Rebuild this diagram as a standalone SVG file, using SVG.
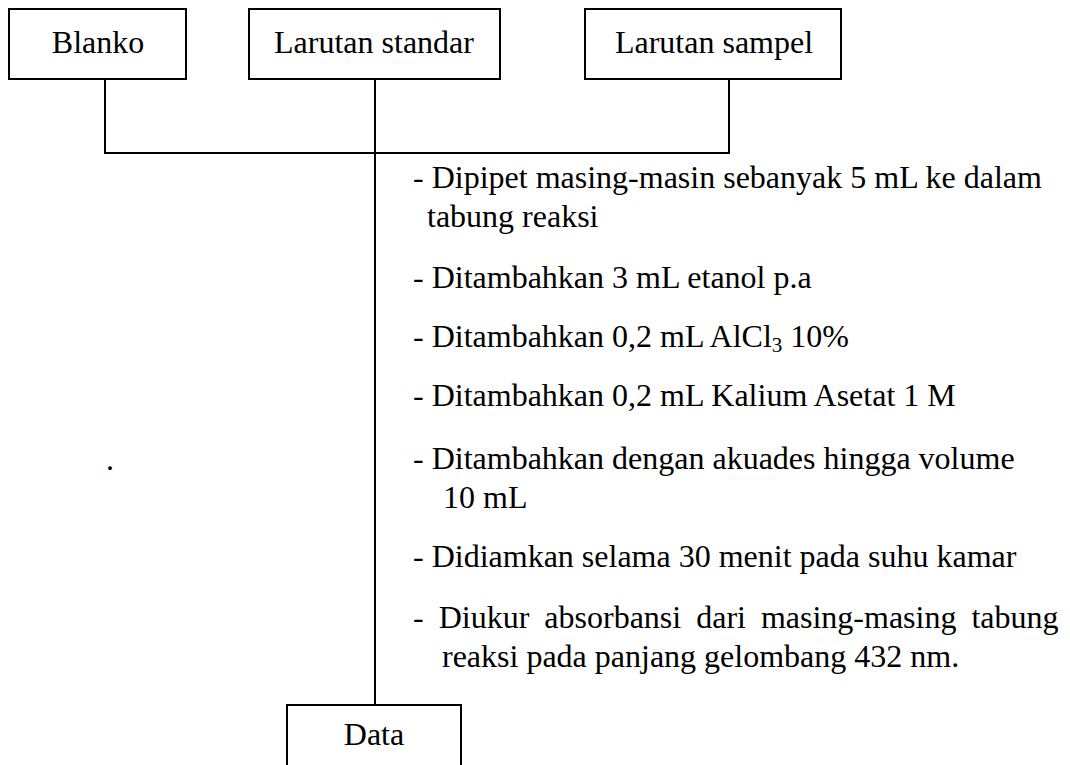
<svg xmlns="http://www.w3.org/2000/svg" width="1070" height="765" viewBox="0 0 1070 765">
<style>
.box{fill:#fff;stroke:#000;stroke-width:2}
.ln{fill:none;stroke:#000;stroke-width:2}
text{font-family:"Liberation Serif","Times New Roman",serif;font-size:32px;fill:#000}
.c{text-anchor:middle}
</style>
<rect width="1070" height="765" fill="#fff"/>
<g id="connectors">
<polyline class="ln" points="105,79 105,153 729,153 729,79"/>
<line class="ln" x1="375" y1="79" x2="375" y2="705"/>
</g>
<g id="blanko"><rect class="box" x="9" y="9" width="177" height="70"/><text class="c" x="98" y="53">Blanko</text></g>
<g id="standar"><rect class="box" x="249" y="9" width="251" height="70"/><text class="c" x="374" y="53">Larutan standar</text></g>
<g id="sampel"><rect class="box" x="585" y="9" width="256" height="70"/><text class="c" x="714" y="53">Larutan sampel</text></g>
<g id="data"><rect class="box" x="287" y="705" width="174" height="80"/><text class="c" x="374" y="745">Data</text></g>
<g id="steps">
<text x="413" y="188">- Dipipet masing-masin sebanyak 5 mL ke dalam</text>
<text x="427" y="227">tabung reaksi</text>
<text x="413" y="288">- Ditambahkan 3 mL etanol p.a</text>
<text x="413" y="347">- Ditambahkan 0,2 mL AlCl<tspan font-size="21" dy="5">3</tspan><tspan dy="-5"> 10%</tspan></text>
<text x="413" y="406">- Ditambahkan 0,2 mL Kalium Asetat 1 M</text>
<text x="413" y="469">- Ditambahkan dengan akuades hingga volume</text>
<text x="443" y="508">10 mL</text>
<text x="413" y="567">- Didiamkan selama 30 menit pada suhu kamar</text>
<text x="413" y="628" word-spacing="7">- Diukur absorbansi dari masing-masing tabung</text>
<text x="442" y="667">reaksi pada panjang gelombang 432 nm.</text>
<text x="106" y="470">.</text>
</g>
</svg>
